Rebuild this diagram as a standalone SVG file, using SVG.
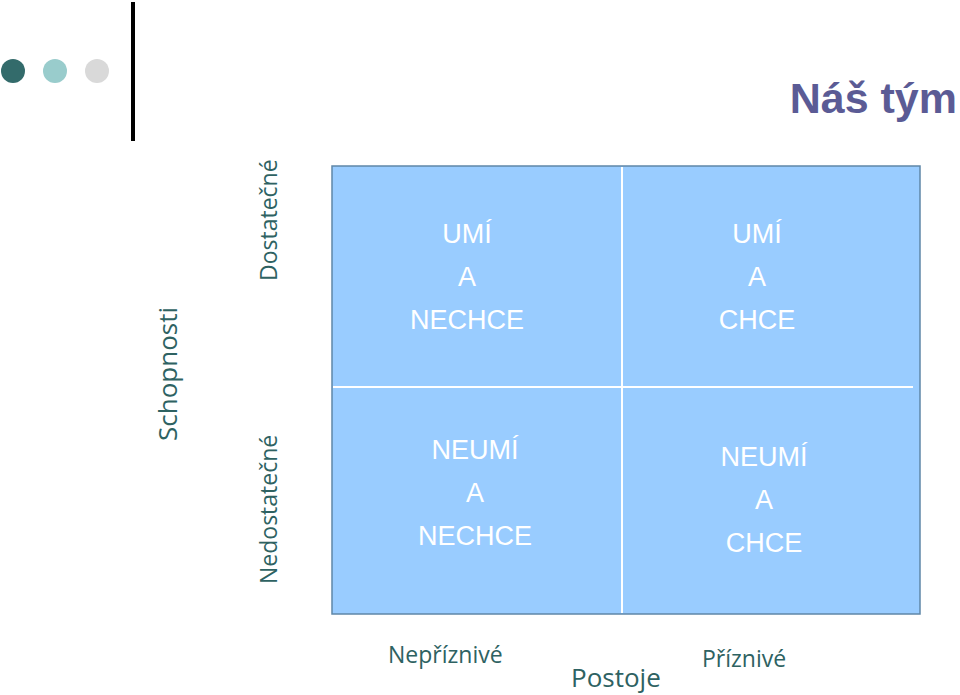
<svg xmlns="http://www.w3.org/2000/svg" width="960" height="695" viewBox="0 0 960 695">
<style>
.q{font-family:"Liberation Sans",Arial,sans-serif;font-size:27px;fill:#ffffff;text-anchor:middle}
.lbl{font-family:"Open Sans","DejaVu Sans",sans-serif;fill:#2e6262}
</style>
<rect width="960" height="695" fill="#ffffff"/>
<g id="decor">
<circle cx="13" cy="71" r="12" fill="#336b6b"/>
<circle cx="55" cy="71" r="12" fill="#99cccc"/>
<circle cx="97" cy="71" r="12" fill="#d9d9d9"/>
<rect x="131" y="2" width="4" height="139" fill="#000000"/>
</g>
<g id="title"><text x="957" y="113" text-anchor="end" font-family="Liberation Sans,Arial,sans-serif" font-weight="bold" font-size="43" fill="#5b5b95">Náš tým</text></g>
<g id="matrix">
<rect x="332" y="166" width="588" height="448" fill="#99ccff" stroke="#5f87a8" stroke-width="1.5"/>
</g>
<g id="connectors">
<line x1="622" y1="167" x2="622" y2="613" stroke="#ffffff" stroke-width="2"/>
<line x1="333" y1="387" x2="913" y2="387" stroke="#ffffff" stroke-width="2"/>
</g>
<g id="q-tl"><text class="q" x="467" y="243">UMÍ</text><text class="q" x="467" y="286">A</text><text class="q" x="467" y="329">NECHCE</text></g>
<g id="q-tr"><text class="q" x="757" y="243">UMÍ</text><text class="q" x="757" y="286">A</text><text class="q" x="757" y="329">CHCE</text></g>
<g id="q-bl"><text class="q" x="475" y="459">NEUMÍ</text><text class="q" x="475" y="502">A</text><text class="q" x="475" y="545">NECHCE</text></g>
<g id="q-br"><text class="q" x="764" y="466">NEUMÍ</text><text class="q" x="764" y="509">A</text><text class="q" x="764" y="552">CHCE</text></g>
<g id="axis-y">
<text class="lbl" font-size="26" transform="translate(177,441) rotate(-90)">Schopnosti</text>
<text class="lbl" font-size="23" transform="translate(277,281) rotate(-90)">Dostatečné</text>
<text class="lbl" font-size="23" transform="translate(277,584) rotate(-90)">Nedostatečné</text>
</g>
<g id="axis-x">
<text class="lbl" font-size="23" x="388" y="663">Nepříznivé</text>
<text class="lbl" font-size="26" x="571" y="687">Postoje</text>
<text class="lbl" font-size="23" x="702" y="667">Příznivé</text>
</g>
</svg>
